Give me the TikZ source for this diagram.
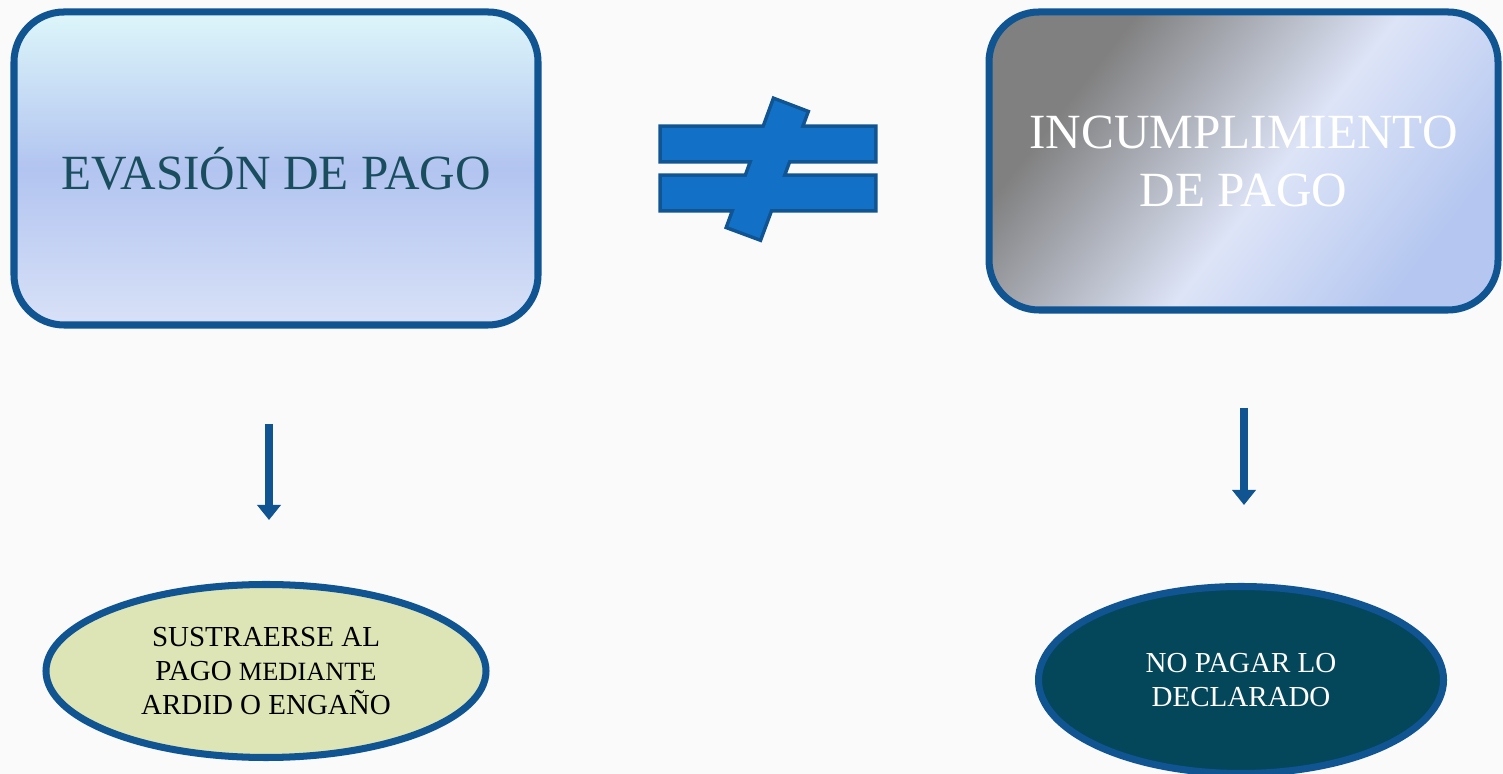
\documentclass[tikz,border=0pt]{standalone}
\usepackage{fontspec}
\setmainfont{Liberation Serif}
\usetikzlibrary{shapes.geometric,arrows.meta}

\definecolor{edgeblue}{RGB}{16,84,146}
\definecolor{neqblue}{RGB}{18,112,198}
\definecolor{titleteal}{RGB}{26,78,94}
\definecolor{paleolive}{RGB}{221,229,182}
\definecolor{deepteal}{RGB}{4,71,91}
\definecolor{boxtop}{RGB}{221,246,250}
\definecolor{boxmid}{RGB}{178,196,240}
\definecolor{boxbot}{RGB}{216,225,247}
\definecolor{metalgray}{RGB}{128,128,128}
\definecolor{metallight}{RGB}{221,228,247}
\definecolor{metalblue}{RGB}{181,199,240}

\pgfdeclareverticalshading{sky}{100bp}{color(0bp)=(boxbot); color(25bp)=(boxbot);
  color(50bp)=(boxmid); color(75bp)=(boxtop); color(100bp)=(boxtop)}
\pgfdeclarehorizontalshading{metal}{100bp}{color(0bp)=(metalgray); color(29bp)=(metalgray);
  color(54bp)=(metallight); color(74bp)=(metalblue); color(100bp)=(metalblue)}

\begin{document}
\begin{tikzpicture}[line width=4pt,
  bigbox/.style={rectangle, rounded corners=1cm, draw=edgeblue, align=center},
  oval/.style={ellipse, draw=edgeblue, align=center, font=\fontsize{16.5}{19.6}\selectfont},
  downarrow/.style={draw=edgeblue, line width=0.16cm, -{Triangle[width=0.46cm,length=0.3cm]}}]
\fill[fill=white!98!black] (0,0) rectangle (30.06,15.48);
\useasboundingbox (0,0) rectangle (30.06,15.48);

\node[bigbox, minimum width=10.48cm, minimum height=6.26cm, shading=sky,
  text=titleteal, font=\fontsize{28}{34}\selectfont] (evasion) at (5.52,12.11) {EVASIÓN DE PAGO};
\node[bigbox, minimum width=10.18cm, minimum height=5.96cm,
  shading=metal, shading angle=-38,
  text=white, font=\fontsize{28}{33}\selectfont] (incumpl) at (24.87,12.26) {INCUMPLIMIENTO\\DE PAGO};

% not equal sign
\begin{scope}[line width=4pt]
\draw[edgeblue] (13.24,12.28) rectangle (17.48,12.92) (13.24,11.30) rectangle (17.48,11.94)
  (15.49,13.47) -- (16.12,13.23) -- (15.19,10.72) -- (14.57,10.95) -- cycle;
\fill[neqblue] (13.24,12.28) rectangle (17.48,12.92) (13.24,11.30) rectangle (17.48,11.94)
  (15.49,13.47) -- (16.12,13.23) -- (15.19,10.72) -- (14.57,10.95) -- cycle;
\end{scope}

\node[oval, minimum width=8.8cm, minimum height=3.46cm, fill=paleolive] (ardid) at (5.32,2.06)
  {SUSTRAERSE AL\\PAGO {\fontsize{15}{19.6}\selectfont MEDIANTE}\\ARDID O ENGAÑO};
\node[oval, minimum width=8.1cm, minimum height=3.74cm, fill=deepteal, text=white] (nopagar) at (24.82,1.88)
  {NO PAGAR LO\\DECLARADO};

\coordinate (a1) at (5.38,7.0);
\coordinate (a2) at (5.38,5.08);
\coordinate (b1) at (24.88,7.32);
\coordinate (b2) at (24.88,5.38);
\draw[downarrow] (a1) -- (a2);
\draw[downarrow] (b1) -- (b2);
\end{tikzpicture}
\end{document}
